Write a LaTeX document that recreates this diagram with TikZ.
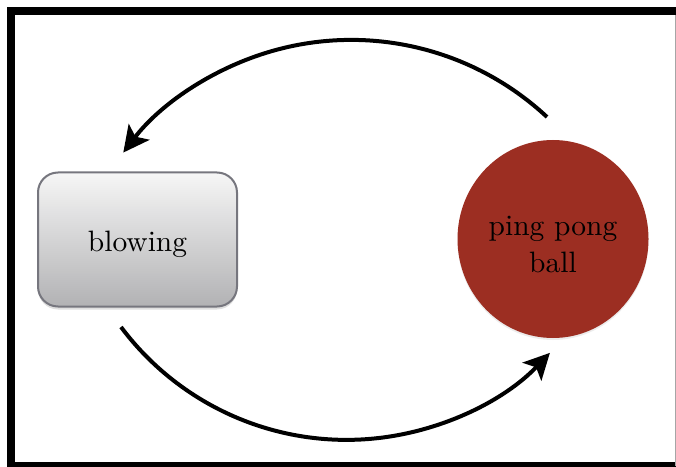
\documentclass[tikz,border=0pt]{standalone}
\usepackage{fontspec}
\newfontfamily\labelfont{lmroman10-regular.otf}
\usetikzlibrary{arrows.meta,shadows,shapes.geometric}
\definecolor{ballred}{HTML}{9C2E22}
\definecolor{boxedge}{HTML}{76767E}
\definecolor{boxtop}{HTML}{F6F6F6}
\definecolor{boxbot}{HTML}{B2B2B4}
% lower a label inside its node while keeping its box dimensions
\newcommand{\lowered}[1]{\raisebox{-5pt}[\height][\depth]{#1}}
\tikzset{
  frameline/.style={line width=8pt,black},
  actionbox/.style={rounded corners=20pt,draw=boxedge,line width=2pt,
    top color=boxtop,bottom color=boxbot,minimum width=199pt,minimum height=134pt,
    drop shadow={opacity=0.25,shadow xshift=0pt,shadow yshift=-3pt},
    font=\labelfont\fontsize{29.5}{35}\selectfont,inner sep=0pt},
  ballnode/.style={ellipse,fill=ballred,minimum width=191pt,minimum height=198pt,inner sep=0pt,
    drop shadow={opacity=0.15,shadow xshift=0pt,shadow yshift=-2pt},
    align=center,font=\labelfont\fontsize{29.5}{37}\selectfont},
  flow/.style={line width=4pt,-{Stealth[length=26pt,width=26pt,inset=6pt]}},
}
\begin{document}
\begin{tikzpicture}[x=1pt,y=1pt]
  \useasboundingbox (0,0) rectangle (676,466);
  \begin{scope}
    \clip (0,0) rectangle (676,466);
    \draw[frameline] (11,0.5) rectangle (700,455);
    \draw[gray!70,line width=1pt] (675.5,0) -- (675.5,451);
  \end{scope}

  \node[actionbox] (blow) at (137.5,226.5) {\lowered{blowing}};
  \node[ballnode] (ball) at (553,227) {\lowered{ping pong}\\\lowered{ball}};

  % free ends of the two curved arrows
  \coordinate (topstart) at (547,349);
  \coordinate (botstart) at (121,139);

  \draw[flow] (topstart) arc[start angle=47,end angle=142.6,radius=287];
  \draw[flow] (botstart) arc[start angle=216.8,end angle=316.3,radius=281.5];
\end{tikzpicture}
\end{document}
